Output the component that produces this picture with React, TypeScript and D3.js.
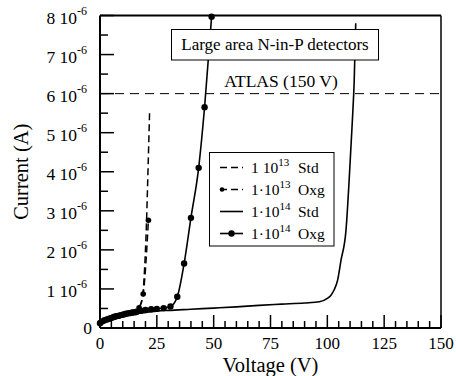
import * as d3 from "d3";

/* ---------- data (current in units of 1e-6 A) ---------- */

const std13V = [0, 2, 4, 6, 8, 10, 12, 14, 16, 17.5, 18.7, 19.6, 20.4, 21.1, 21.8];
const std13I = [0.12, 0.18, 0.22, 0.26, 0.3, 0.33, 0.36, 0.39, 0.44, 0.55, 0.8, 1.5, 2.6, 4.0, 5.5];

const oxg13V = [0, 1, 2, 3, 4, 5, 6, 7, 8, 9, 10, 11, 12, 13, 14, 15, 16, 17.2, 19, 21.3];
const oxg13I = [0.13, 0.16, 0.19, 0.21, 0.23, 0.25, 0.27, 0.29, 0.3, 0.32, 0.34, 0.35, 0.37, 0.38, 0.4, 0.41, 0.43, 0.52, 0.87, 2.76];

const std14V = [0, 2, 5, 10, 15, 20, 25, 30, 40, 50, 60, 70, 80, 90, 96.5, 100, 101.6, 103, 104.5, 106, 108.2, 109.8, 111, 111.8, 112.5];
const std14I = [0.1, 0.17, 0.24, 0.31, 0.36, 0.4, 0.43, 0.45, 0.48, 0.51, 0.54, 0.58, 0.61, 0.64, 0.67, 0.76, 0.84, 0.98, 1.22, 1.73, 2.5, 4.0, 5.3, 6.3, 7.8];

const oxg14V = [0, 1, 2, 3, 4, 5, 6, 7, 8, 9, 10, 11, 12, 13, 14, 15, 16, 18, 20, 22.5, 25, 28, 31, 34, 37, 40, 43.4, 46, 49.1];
const oxg14I = [0.12, 0.17, 0.2, 0.22, 0.24, 0.26, 0.28, 0.3, 0.31, 0.33, 0.34, 0.36, 0.37, 0.38, 0.39, 0.4, 0.41, 0.44, 0.46, 0.48, 0.49, 0.51, 0.55, 0.8, 1.65, 2.82, 4.1, 5.65, 7.97];

const atlasLimit = 6; // 6e-6 A

const yTicks = [0, 1, 2, 3, 4, 5, 6, 7, 8];
const xTicks = [0, 25, 50, 75, 100, 125, 150];

const legendLabels = [
  { base: "1 10", exp: "13", tag: "Std" },
  { base: "1·10", exp: "13", tag: "Oxg" },
  { base: "1·10", exp: "14", tag: "Std" },
  { base: "1·10", exp: "14", tag: "Oxg" },
];

/* ---------- layout ---------- */

const W = 456;
const H = 376;
const margin = { left: 100, right: 15, top: 15.5, bottom: 48 };
const FONT = "Liberation Serif";

type Pt = [number, number];
const zip = (xs: number[], ys: number[]): Pt[] => xs.map((x, i) => [x, ys[i]]);

export default function App() {
  const x = d3.scaleLinear().domain([0, 150]).range([margin.left, W - margin.right]);
  const y = d3.scaleLinear().domain([0, 8]).range([H - margin.bottom, margin.top]);

  const line = d3
    .line<Pt>()
    .x((d) => x(d[0]))
    .y((d) => y(d[1]))
    .curve(d3.curveMonotoneX);

  const s1 = zip(std13V, std13I);
  const s2 = zip(oxg13V, oxg13I);
  const s3 = zip(std14V, std14I);
  const s4 = zip(oxg14V, oxg14I);

  const [x0, x1] = x.range();
  const [yb, yt] = y.range();

  const xMinor = d3.range(0, 151, 5).filter((v) => v % 25 !== 0);
  const yMinor = d3.range(0.5, 8, 1);

  const lx = 209.5;
  const ly = 152.5;
  const rowY = (i: number) => ly + 15 + i * 22;

  return (
    <svg width={W} height={H} style={{ position: "absolute", left: 0, top: 0, background: "#fff" }}>
      {/* ATLAS limit */}
      <line x1={x0} x2={x1} y1={y(atlasLimit)} y2={y(atlasLimit)} stroke="#000" strokeWidth={1} strokeDasharray="9 6" />
      <text x={281} y={y(atlasLimit) - 7} textAnchor="middle" fontSize={17.5} fontFamily={FONT}>
        ATLAS (150 V)
      </text>

      {/* series */}
      <path d={line(s1) ?? ""} fill="none" stroke="#000" strokeWidth={1.5} strokeDasharray="7 4" />
      <path d={line(s2) ?? ""} fill="none" stroke="#000" strokeWidth={1.5} strokeDasharray="7 4" />
      {s2.map((d, i) => (
        <circle key={`a${i}`} cx={x(d[0])} cy={y(d[1])} r={2.8} fill="#000" />
      ))}
      <path d={line(s3) ?? ""} fill="none" stroke="#000" strokeWidth={1.6} />
      <path d={line(s4) ?? ""} fill="none" stroke="#000" strokeWidth={1.6} />
      {s4.map((d, i) => (
        <circle key={`b${i}`} cx={x(d[0])} cy={y(d[1])} r={3.2} fill="#000" />
      ))}

      {/* title box */}
      <rect x={171.5} y={29.5} width={207} height={30.5} fill="#fff" stroke="#000" strokeWidth={1} />
      <text x={275} y={50} textAnchor="middle" fontSize={17} fontFamily={FONT}>
        Large area N-in-P detectors
      </text>

      {/* legend */}
      <rect x={lx} y={ly} width={124.5} height={93.5} fill="#fff" stroke="#000" strokeWidth={1} />
      {legendLabels.map((l, i) => {
        const cy = rowY(i);
        return (
          <g key={i}>
            {i === 0 && (
              <line x1={220} x2={243} y1={cy} y2={cy} stroke="#000" strokeWidth={1.5} strokeDasharray="7 4" />
            )}
            {i === 1 && (
              <g>
                <line x1={220} x2={243} y1={cy} y2={cy} stroke="#000" strokeWidth={1.5} strokeDasharray="7 4" />
                <circle cx={222} cy={cy} r={2.3} fill="#000" />
              </g>
            )}
            {i === 2 && <line x1={220} x2={243} y1={cy} y2={cy} stroke="#000" strokeWidth={1.6} />}
            {i === 3 && (
              <g>
                <line x1={220} x2={243} y1={cy} y2={cy} stroke="#000" strokeWidth={1.6} />
                <circle cx={231.5} cy={cy} r={3.2} fill="#000" />
              </g>
            )}
            <text x={251} y={cy + 5} fontSize={15.5} fontFamily={FONT}>
              {l.base}
              <tspan fontSize={11} dy={-7}>
                {l.exp}
              </tspan>
            </text>
            <text x={298} y={cy + 5} fontSize={15.5} fontFamily={FONT}>
              {l.tag}
            </text>
          </g>
        );
      })}

      {/* frame */}
      <line x1={x0} x2={x1} y1={yt} y2={yt} stroke="#000" strokeWidth={2} />
      <line x1={x1} x2={x1} y1={yt} y2={yb} stroke="#000" strokeWidth={1.5} />
      <line x1={x0} x2={x1} y1={yb} y2={yb} stroke="#000" strokeWidth={2} />
      <line x1={x0} x2={x0} y1={yt} y2={yb} stroke="#000" strokeWidth={2} />

      {/* y ticks */}
      {yTicks.map((t) => (
        <line key={`yt${t}`} x1={x0} x2={x0 + 14} y1={y(t)} y2={y(t)} stroke="#000" strokeWidth={1.5} />
      ))}
      {yMinor.map((t) => (
        <line key={`ym${t}`} x1={x0} x2={x0 + 8} y1={y(t)} y2={y(t)} stroke="#000" strokeWidth={1.5} />
      ))}
      {yTicks.map((t) =>
        t === 0 ? (
          <text key={`yl${t}`} x={x0 - 8} y={y(t) + 6} textAnchor="end" fontSize={17.5} fontFamily={FONT}>
            0
          </text>
        ) : (
          <text key={`yl${t}`} x={x0 - 13} y={y(t) + 8} textAnchor="end" fontSize={17.5} fontFamily={FONT}>
            {`${t} 10`}
            <tspan fontSize={12} dy={-9}>
              -6
            </tspan>
          </text>
        ),
      )}

      {/* x ticks */}
      {xTicks.map((t) => (
        <line key={`xt${t}`} x1={x(t)} x2={x(t)} y1={yb} y2={yb - 13} stroke="#000" strokeWidth={1.5} />
      ))}
      {xMinor.map((t) => (
        <line key={`xm${t}`} x1={x(t)} x2={x(t)} y1={yb} y2={yb - 7} stroke="#000" strokeWidth={1.5} />
      ))}
      {xTicks.map((t) => (
        <text key={`xl${t}`} x={x(t)} y={yb + 21} textAnchor="middle" fontSize={17} fontFamily={FONT}>
          {t}
        </text>
      ))}

      {/* axis titles */}
      <text x={(x0 + x1) / 2} y={H - 4} textAnchor="middle" fontSize={20.5} fontFamily={FONT}>
        Voltage (V)
      </text>
      <text
        transform={`translate(28, ${(yt + yb) / 2}) rotate(-90)`}
        textAnchor="middle"
        fontSize={20.5}
        fontFamily={FONT}
      >
        Current (A)
      </text>
    </svg>
  );
}
